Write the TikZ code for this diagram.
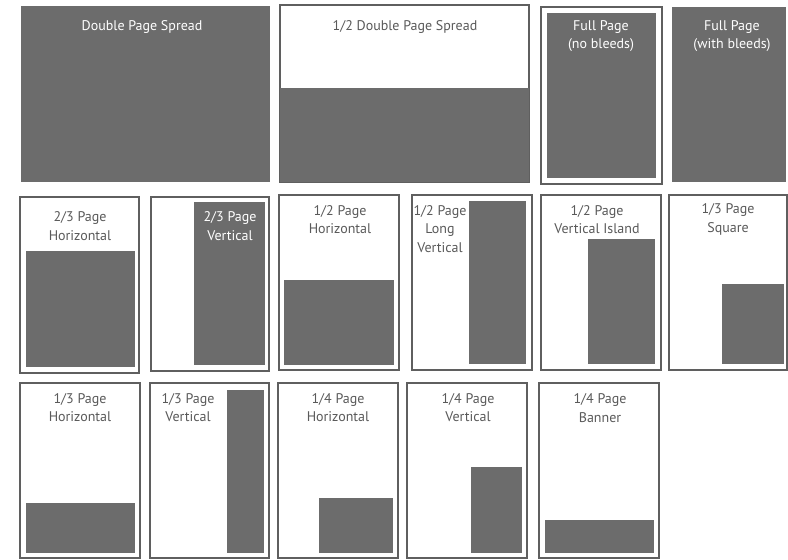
\documentclass[tikz,border=0pt]{standalone}
\usepackage{fontspec}
\setmainfont{PT Sans}
\begin{document}
\begin{tikzpicture}[x=1pt,y=-1pt,
  adfill/.style={fill=adgray,draw=none},
  adframe/.style={draw=framegray,line width=1.3pt,fill=white},
  lbl/.style={align=center,font=\fontsize{14}{18.5}\selectfont,inner sep=0pt},
  lbldark/.style={lbl,text=labelgray},
  lbllight/.style={lbl,text=white}]
\definecolor{adgray}{RGB}{108,108,108}
\definecolor{framegray}{RGB}{95,95,95}
\definecolor{labelgray}{RGB}{90,90,90}
\useasboundingbox (0,0) rectangle (788,560);
\fill[white] (0,0) rectangle (788,560);
% Row 1
\path[adfill] (21,6) rectangle (270,182);
\node[lbllight] (dps) at (142,27) {Double Page Spread};
\path[adframe] (280,5) rectangle (529,182);
\path[adfill] (280,88) rectangle (529,182);
\node[lbldark] (hdps) at (405,27) {1/2 Double Page Spread};
\path[adframe] (541,7) rectangle (662,184);
\path[adfill] (547,13) rectangle (656,178);
\node[lbllight] (fpnb) at (601,36) {Full Page\\(no bleeds)};
\path[adfill] (672,7) rectangle (786,182);
\node[lbllight] (fpwb) at (732,36) {Full Page\\(with bleeds)};
% Row 2
\path[adframe] (20,197) rectangle (139,373);
\path[adfill] (26,251) rectangle (135,367);
\node[lbldark] (tph) at (80,226) {2/3 Page\\Horizontal};
\path[adframe] (151,197) rectangle (269,371);
\path[adfill] (194,202) rectangle (265,365);
\node[lbllight] (tpv) at (230,226) {2/3 Page\\Vertical};
\path[adframe] (279,195) rectangle (399,370);
\path[adfill] (284,280) rectangle (394,365);
\node[lbldark] (hph) at (340,219.5) {1/2 Page\\Horizontal};
\path[adframe] (412,195) rectangle (532,370);
\path[adfill] (469,201) rectangle (526,364);
\node[lbldark] (hplv) at (440,229) {1/2 Page\\Long\\Vertical};
\path[adframe] (541,195) rectangle (661,370);
\path[adfill] (588,239) rectangle (655,364);
\node[lbldark] (hpvi) at (597,219.5) {1/2 Page\\Vertical Island};
\path[adframe] (669,195) rectangle (787,370);
\path[adfill] (722,284) rectangle (784,364);
\node[lbldark] (tps) at (728,219.5) {1/3 Page\\Square};
% Row 3
\path[adframe] (20,383) rectangle (140,558);
\path[adfill] (26,503) rectangle (135,553);
\node[lbldark] (oph) at (80,407.5) {1/3 Page\\Horizontal};
\path[adframe] (150,383) rectangle (269,558);
\path[adfill] (227,390) rectangle (264,553);
\node[lbldark] (opv) at (188,407.5) {1/3 Page\\Vertical};
\path[adframe] (278,383) rectangle (398,558);
\path[adfill] (319,498) rectangle (393,553);
\node[lbldark] (qph) at (338,407.5) {1/4 Page\\Horizontal};
\path[adframe] (407,383) rectangle (527,558);
\path[adfill] (471,467) rectangle (522,553);
\node[lbldark] (qpv) at (468,407.5) {1/4 Page\\Vertical};
\path[adframe] (539,383) rectangle (659,558);
\path[adfill] (545,520) rectangle (654,553);
\node[lbldark] (qpb) at (600,408) {1/4 Page\\Banner};
\end{tikzpicture}
\end{document}
